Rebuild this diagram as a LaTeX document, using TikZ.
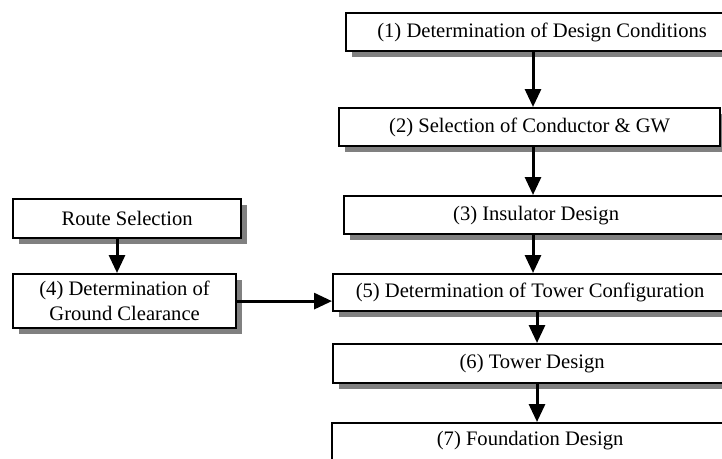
\documentclass[tikz,border=0pt]{standalone}
\usepackage{fontspec}
\setmainfont{Liberation Serif}
\usetikzlibrary{arrows.meta,shadows}
\tikzset{
  box/.style={draw=black, line width=2.2pt, fill=white, anchor=north west, inner sep=0pt,
    align=center, font=\fontsize{20.6}{25}\selectfont,
    drop shadow={shadow xshift=5.5pt, shadow yshift=-6pt, fill=black!50, opacity=1}},
  arr/.style={line width=3pt, -{Triangle[length=18pt,width=16pt]}}
}
\begin{document}
\begin{tikzpicture}[x=1pt,y=-1pt]
\clip (0,0) rectangle (722,458);
\fill[white] (0,0) rectangle (722,458);
\node[box, minimum width=392pt, minimum height=38pt] (b1) at (345,12) {(1) Determination of Design Conditions};
\node[box, minimum width=381pt, minimum height=38pt] (b2) at (338,107) {(2) Selection of Conductor \& GW};
\node[box, minimum width=384pt, minimum height=38pt] (b3) at (343,195) {(3) Insulator Design};
\node[box, minimum width=394pt, minimum height=37pt] (b5) at (332,273) {(5) Determination of Tower Configuration};
\node[box, minimum width=398pt, minimum height=39pt] (b6) at (332,343) {(6) Tower Design};
\node[box, minimum width=396pt, minimum height=60pt, text depth=30pt] (b7) at (331,422) {(7) Foundation Design};
\node[box, minimum width=228pt, minimum height=39pt] (rs) at (12,198) {Route Selection};
\node[box, minimum width=223pt, minimum height=54pt] (b4) at (12,273) {(4) Determination of\\Ground Clearance};
\coordinate (xa) at (533,0);
\coordinate (xb) at (537,0);
\coordinate (xc) at (117,0);
\draw[arr] (b1.south -| xa) -- (b2.north -| xa);
\draw[arr] (b2.south -| xa) -- (b3.north -| xa);
\draw[arr] (b3.south -| xa) -- (b5.north -| xa);
\draw[arr] (b5.south -| xb) -- (b6.north -| xb);
\draw[arr] (b6.south -| xb) -- (b7.north -| xb);
\draw[arr] (rs.south -| xc) -- (b4.north -| xc);
\draw[arr] (b4.east |- b4.center) -- (b5.west |- b4.center);
\end{tikzpicture}
\end{document}
